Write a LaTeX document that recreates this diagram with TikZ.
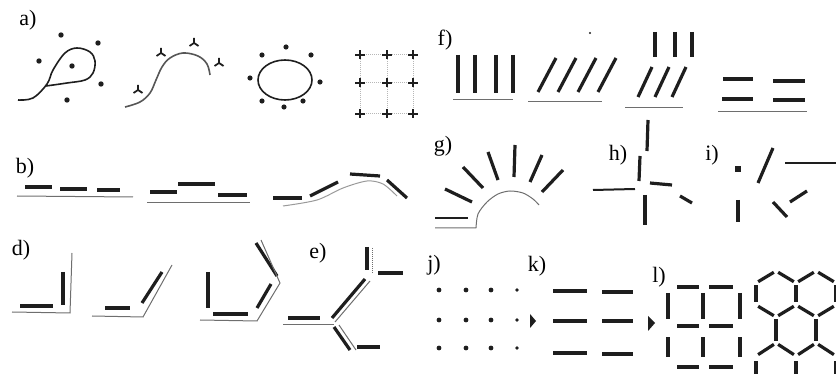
\documentclass[tikz,border=0pt]{standalone}
\usepackage{fontspec}
\setmainfont{Liberation Serif}
\usepackage{tikz}
\definecolor{ink}{RGB}{30, 30, 30}
\definecolor{trace}{RGB}{110, 110, 110}

\begin{document}
\begin{tikzpicture}[
  x=1pt, y=-1pt,
  bar/.style={line width=3.2pt, ink},
  guide/.style={line width=1pt, trace},
  tag/.style={font=\rmfamily\fontsize{22}{24}\selectfont, inner sep=0pt},
  tri/.pic={\draw[line width=1.8pt, ink] (0,0) -- (0,-5) (0,0) -- (-4.5,3) (0,0) -- (4.5,3);},
  plus/.pic={\draw[line width=1.8pt, ink] (-5,0) -- (5,0) (0,-4.5) -- (0,4.5);}
]
  \useasboundingbox (0,0) rectangle (836,374);
  \clip (0,0) rectangle (836,374);

  % --- a) proximity / closure ---
  \node[tag] (la) at (28,20) {a)};
  \draw[line width=1.6pt, ink] plot[smooth, tension=0.6] coordinates
    {(18,100) (33,98) (47,84) (53,70) (65,53) (77,48) (90,52) (95,61) (93,73) (85,80) (67,83) (46,86)};
  \foreach \p in {(61,35), (98,43), (39,61), (72,66), (101,84), (67,100)}
    \fill[ink] \p circle[radius=2.7pt];
  \draw[line width=1.6pt, ink!75] plot[smooth, tension=0.6] coordinates
    {(125,107) (140,102) (150,93) (156,80) (162,67) (170,58) (183,53) (198,56) (207,64) (210,75)};
  \foreach \p in {(138,90), (161,53), (194,43), (219,63)}
    \pic at \p {tri};
  \draw[line width=1.6pt, ink] (285,80) ellipse [x radius=27pt, y radius=20pt];
  \foreach \p in {(286,47), (262,55), (311,55), (250,78), (320,82), (262,101), (303,101), (284,107)}
    \fill[ink] \p circle[radius=2.6pt];
  \foreach \y in {55, 83, 114}
    \draw[trace!50, densely dotted, line width=1pt] (360,\y) -- (413,\y);
  \foreach \x in {360, 387, 413}
    \draw[trace!50, densely dotted, line width=1pt] (\x,55) -- (\x,114);
  \foreach \x in {360, 387, 413}
    \foreach \y in {55, 83, 114}
      \pic at (\x,\y) {plus};

  % --- f) similarity / common region ---
  \node[tag] (lf) at (445,40) {f)};
  \foreach \x in {458, 475, 496, 513}
    \draw[bar] (\x,55) -- (\x,93);
  \draw[guide] (453,100) -- (513,100);
  \foreach \d in {0, 20, 40, 60}
    \draw[bar] (538+\d,92) -- (556+\d,58);
  \draw[guide] (528,102) -- (602,102);
  \fill[ink] (590,33) circle[radius=1.2pt];
  \foreach \x in {655, 675, 692}
    \draw[bar] (\x,32) -- (\x,57);
  \foreach \d in {0, 17, 34}
    \draw[bar] (638+\d,97) -- (652+\d,67);
  \draw[guide] (625,108) -- (683,108);
  \draw[bar] (723,79) -- (753,79);
  \draw[bar] (773,81) -- (805,81);
  \draw[bar] (722,99) -- (753,99);
  \draw[bar] (773,100) -- (805,100);
  \draw[guide] (718,112) -- (807,112);

  % --- b) continuation of dashes ---
  \node[tag] (lb) at (25,168) {b)};
  \draw[bar] (25,187) -- (52,187);
  \draw[bar] (60,189) -- (87,189);
  \draw[bar] (97,190) -- (120,190);
  \draw[guide] (17,196) -- (133,197);
  \draw[bar] (150,192) -- (177,192);
  \draw[bar] (178,184) -- (215,184);
  \draw[bar] (218,195) -- (247,195);
  \draw[guide] (147,203) -- (250,203);
  \draw[bar] (273,198) -- (302,198);
  \draw[bar] (310,196) -- (338,182);
  \draw[bar] (350,174) -- (380,176);
  \draw[bar] (387,180) -- (407,198);
  \draw[guide, trace!70] plot[smooth] coordinates
    {(283,206) (317,200) (343,188) (367,181) (383,184) (397,196)};

  % --- g) rising sun ---
  \node[tag] (lg) at (443,146) {g)};
  \draw[bar] (445,189) -- (472,202);
  \draw[bar] (463,167) -- (483,188);
  \draw[bar] (488,152) -- (498,180);
  \draw[bar] (515,145) -- (514,177);
  \draw[bar] (542,155) -- (530,182);
  \draw[bar] (563,170) -- (542,192);
  \draw[line width=1.6pt, ink] (435,218) -- (468,218);
  \draw[guide] (435,228) -- (476,228)
    plot[smooth] coordinates {(476,228) (478,214) (487,202) (498,194) (510,191) (523,193) (533,199) (539,205)};

  % --- h) ---
  \node[tag] (lh) at (618,155) {h)};
  \draw[bar] (648,120) -- (647,151);
  \draw[bar] (640,156) -- (639,181);
  \draw[line width=2pt, ink] (593,190) -- (635,189);
  \draw[bar] (650,183) -- (672,185);
  \draw[bar] (680,196) -- (692,203);
  \draw[bar] (645,195) -- (645,225);

  % --- i) ---
  \node[tag] (li) at (712,155) {i)};
  \fill[ink] (735,166) rectangle (741,172);
  \draw[bar] (773,148) -- (758,183);
  \draw[line width=2pt, ink] (785,163) -- (836,163);
  \draw[bar] (738,200) -- (738,222);
  \draw[bar] (790,202) -- (807,191);
  \draw[bar] (773,202) -- (787,217);

  % --- d) good continuation of corners ---
  \node[tag] (ld) at (21,250) {d)};
  \draw[bar] (20,306) -- (53,306);
  \draw[bar] (63,272) -- (63,305);
  \draw[guide] (72,253) -- (70,313) -- (12,312);
  \draw[bar] (105,308) -- (130,308);
  \draw[bar] (142,303) -- (162,272);
  \draw[guide] (172,265) -- (143,317) -- (92,316);
  \draw[bar] (208,272) -- (208,308);
  \draw[bar] (213,314) -- (248,314);
  \draw[bar] (257,308) -- (271,284);
  \draw[bar] (256,243) -- (277,276);
  \draw[guide] (200,320) -- (257,321) -- (280,283) -- (261,240);

  % --- e) branching ---
  \node[tag] (le) at (318,253) {e)};
  \draw[bar] (367,247) -- (367,270);
  \draw[guide, densely dotted] (372,248) -- (372,273);
  \draw[bar] (378,273) -- (403,273);
  \draw[bar] (365,279) -- (332,318);
  \draw[guide] (370,281) -- (335,322);
  \draw[bar] (288,318) -- (320,318);
  \draw[guide] (283,325) -- (334,325);
  \draw[bar] (334,327) -- (350,350);
  \draw[guide] (339,325) -- (356,350);
  \draw[bar] (357,347) -- (380,347);

  % --- j) dots and k) dashes ---
  \node[tag] (lj) at (434,265) {j)};
  \foreach \x in {439, 466, 491}
    \foreach \y in {290, 320, 348}
      \fill[ink] (\x,\y) circle[radius=2.4pt];
  \foreach \y in {290, 320, 348}
    \fill[ink] (517,\y) circle[radius=1.8pt];
  \fill[ink] (530,314) -- (536,321) -- (530,328) -- cycle;
  \node[tag] (lk) at (537,266) {k)};
  \foreach \y/\v in {291/292, 321/321, 353/354} {
    \draw[bar] (553,\y) -- (587,\y);
    \draw[bar] (602,\v) -- (633,\v);
  }
  \fill[ink] (648,316) -- (655,323) -- (648,331) -- cycle;

  % --- l) squares and honeycomb ---
  \node[tag] (ll) at (659,277) {l)};
  \foreach \x in {668, 703, 740} {
    \draw[bar] (\x,293) -- (\x,319);
    \draw[bar] (\x,337) -- (\x,357);
  }
  \foreach \y in {287, 326, 367} {
    \draw[bar] (677,\y) -- (699,\y);
    \draw[bar] (709,\y) -- (733,\y);
  }
  \begin{scope}[bar, shorten <=2.5pt, shorten >=2.5pt]
    % top peaks
    \draw (776,271) -- (756,283);
    \draw (776,271) -- (796,283);
    \draw (816,271) -- (796,283);
    \draw (816,271) -- (836,283);
    % upper verticals
    \foreach \x in {756, 796, 836}
      \draw (\x,283) -- (\x,305);
    % valleys
    \draw (756,305) -- (776,317);
    \draw (796,305) -- (776,317);
    \draw (796,305) -- (816,317);
    \draw (836,305) -- (816,317);
    % lower verticals
    \foreach \x in {776, 816}
      \draw (\x,317) -- (\x,343);
    % bottom branches
    \draw (776,343) -- (756,356);
    \draw (776,343) -- (796,356);
    \draw (816,343) -- (796,356);
    \draw (816,343) -- (836,356);
  \end{scope}
  \foreach \x in {756, 796, 836}
    \draw[bar] (\x,361) -- (\x,376);
\end{tikzpicture}
\end{document}
